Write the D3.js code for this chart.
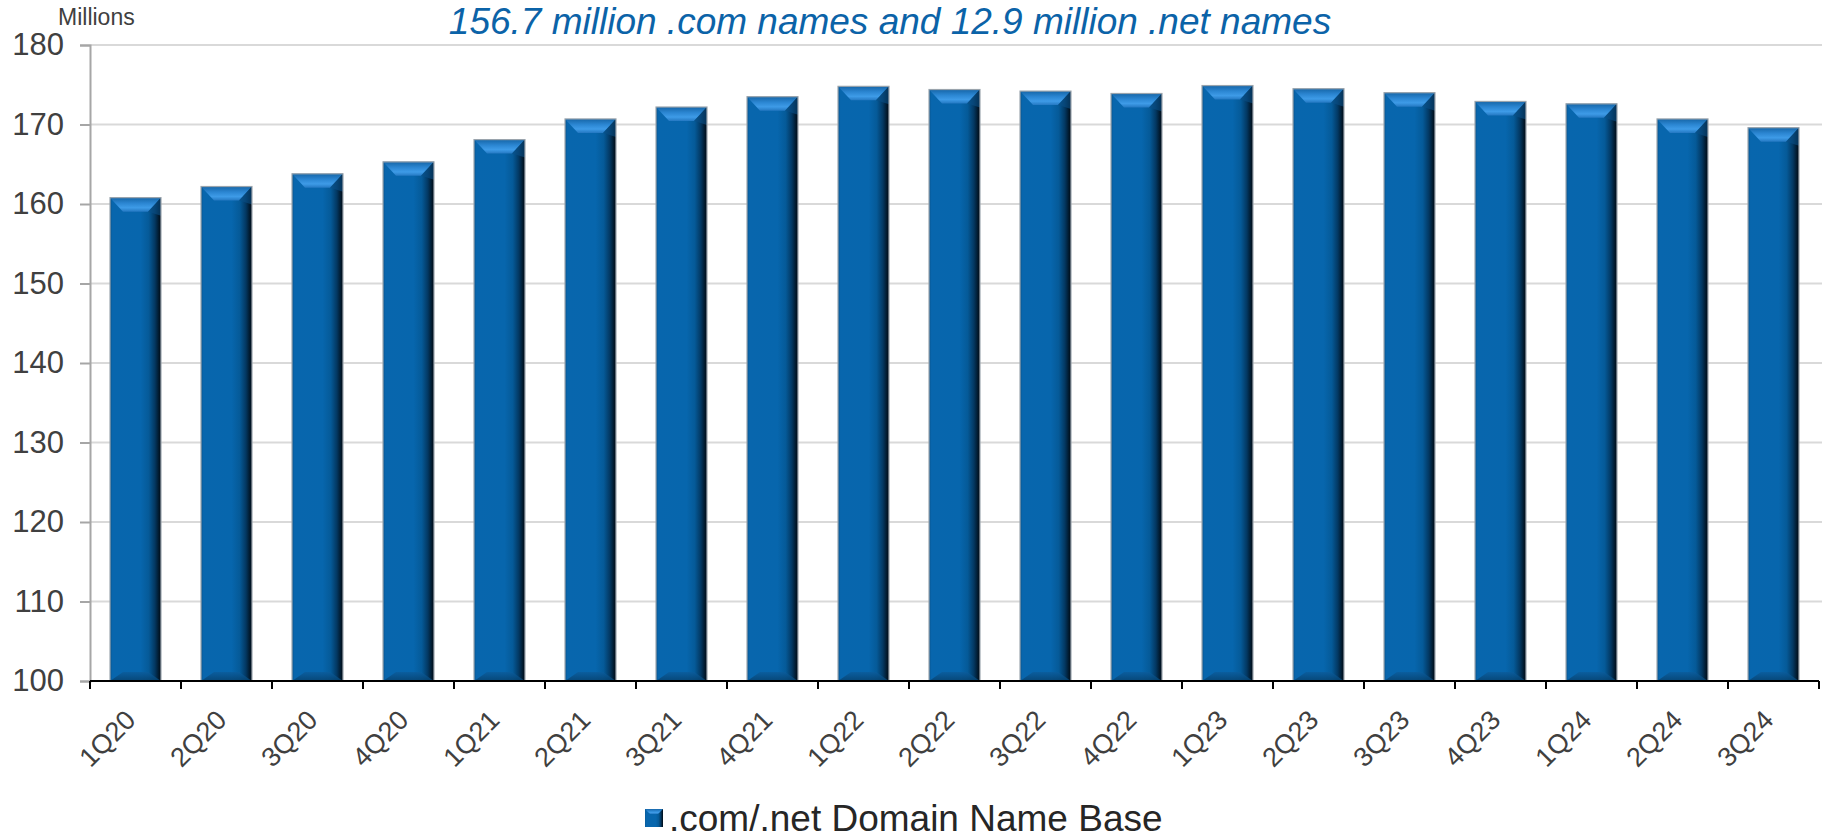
<!DOCTYPE html>
<html>
<head>
<meta charset="utf-8">
<script src="https://cdn.jsdelivr.net/npm/d3@7"></script>
<style>
  html, body { margin: 0; padding: 0; background: #ffffff; }
  svg { display: block; }
  text { font-family: "Liberation Sans", Arial, sans-serif; }
</style>
</head>
<body>
<svg id="chart" width="1822" height="839"></svg>
<script>
// ---- data ----
const categories = ["1Q20","2Q20","3Q20","4Q20","1Q21","2Q21","3Q21","4Q21","1Q22","2Q22","3Q22","4Q22","1Q23","2Q23","3Q23","4Q23","1Q24","2Q24","3Q24"];
const domainBase = [160.8,162.2,163.8,165.3,168.1,170.7,172.2,173.5,174.8,174.4,174.2,173.9,174.9,174.5,174.0,172.9,172.6,170.7,169.6];
const yTicks = [100,110,120,130,140,150,160,170,180];
const seriesName = ".com/.net Domain Name Base";
const titleText = "156.7 million .com names and 12.9 million .net names";
const unitText = "Millions";

(function () {
const svg = d3.select("#chart");
const mLeft = 90, mRight = 1819, mTop = 45, mBottom = 681;

const x = d3.scaleBand().domain(categories).range([mLeft, mRight]).paddingInner(0.44).paddingOuter(0.22);
const y = d3.scaleLinear().domain([100, 180]).range([mBottom, mTop]);

const defs = svg.append("defs");
const body = defs.append("linearGradient").attr("id", "bodyGrad").attr("x1", "0").attr("x2", "1").attr("y1", "0").attr("y2", "0");
[[0,"#0a5690"],[0.05,"#0866ad"],[0.6,"#0766ad"],[0.76,"#055a98"],[0.88,"#033862"],[0.96,"#01182b"],[1,"#010b15"]]
  .forEach(([o,c]) => body.append("stop").attr("offset", o).attr("stop-color", c));
const topG = defs.append("linearGradient").attr("id", "topGrad").attr("x1", "0").attr("x2", "0").attr("y1", "0").attr("y2", "1");
[[0,"#1666a8"],[0.4,"#2b86d2"],[0.72,"#3e9be7"],[1,"#2478c2"]]
  .forEach(([o,c]) => topG.append("stop").attr("offset", o).attr("stop-color", c));
const botG = defs.append("linearGradient").attr("id", "botGrad").attr("x1", "0").attr("x2", "0").attr("y1", "0").attr("y2", "1");
[[0,"#0b5c9c"],[1,"#06426f"]]
  .forEach(([o,c]) => botG.append("stop").attr("offset", o).attr("stop-color", c));

// gridlines
svg.append("g").selectAll("line").data(yTicks.filter(d => d > 100)).join("line")
  .attr("x1", mLeft).attr("x2", 1822)
  .attr("y1", d => y(d)).attr("y2", d => y(d))
  .attr("stroke", "#d9d9d9").attr("stroke-width", 2);

// y axis
const yAxis = svg.append("g").attr("transform", `translate(${mLeft},0)`)
  .call(d3.axisLeft(y).tickValues(yTicks).tickSize(10).tickPadding(16).tickFormat(d3.format("d")));
yAxis.select(".domain").attr("stroke", "#a6a6a6").attr("stroke-width", 2);
yAxis.selectAll(".tick line").attr("stroke", "#a6a6a6").attr("stroke-width", 2);
yAxis.selectAll(".tick text").attr("fill", "#404040").style("font-size", "31px")
  .style("font-family", '"Liberation Sans", Arial, sans-serif');

// bars
const bv = 13, bh = 14, bb = 9;
const bars = svg.append("g").selectAll("g").data(categories.map((c, i) => ({c, v: domainBase[i]}))).join("g");
bars.each(function(d) {
  const g = d3.select(this);
  const x0 = x(d.c), w = x.bandwidth(), y0 = y(d.v), y1 = y(100);
  g.append("rect").attr("x", x0).attr("y", y0).attr("width", w).attr("height", y1 - y0).attr("fill", "url(#bodyGrad)");
  g.append("polygon").attr("points", [[x0, y1],[x0 + w, y1],[x0 + w - bv, y1 - bb],[x0 + bv, y1 - bb]].map(p => p.join(",")).join(" "))
    .attr("fill", "url(#botGrad)").attr("opacity", 0.85);
  g.append("polygon").attr("points", [[x0, y0],[x0 + w, y0],[x0 + w - bv, y0 + bh],[x0 + bv, y0 + bh]].map(p => p.join(",")).join(" "))
    .attr("fill", "url(#topGrad)");
  g.append("polygon").attr("points", [[x0 + w, y0],[x0 + w, y0 + bh + 4],[x0 + w - bv, y0 + bh]].map(p => p.join(",")).join(" "))
    .attr("fill", "#0a4f86").attr("opacity", 0.6);
  g.append("rect").attr("x", x0).attr("y", y0).attr("width", w).attr("height", y1 - y0)
    .attr("fill", "none").attr("stroke", "#9aa4ad").attr("stroke-width", 1.2);
});

// x axis
const xAxis = svg.append("g").attr("transform", `translate(0,${mBottom})`);
xAxis.append("line").attr("x1", mLeft).attr("x2", mRight).attr("y1", 0).attr("y2", 0).attr("stroke", "#000").attr("stroke-width", 2);
const bounds = categories.map(c => x(c) - x.step() * x.paddingInner() / 2).concat([mRight]);
xAxis.selectAll("line.tk").data(bounds).join("line").attr("class", "tk")
  .attr("x1", d => d).attr("x2", d => d).attr("y1", 0).attr("y2", 8)
  .attr("stroke", "#000").attr("stroke-width", 2);
xAxis.selectAll("text").data(categories).join("text")
  .attr("transform", d => `translate(${x(d) + x.bandwidth() / 2 - 5},${34}) rotate(-45)`)
  .attr("text-anchor", "end").attr("dy", "0.35em")
  .attr("fill", "#404040").style("font-size", "27px")
  .text(d => d);

// unit label
svg.append("text").attr("x", 58).attr("y", 25).attr("fill", "#404040").style("font-size", "23px").text(unitText);

// title
svg.append("text").attr("x", 890).attr("y", 34).attr("text-anchor", "middle")
  .attr("fill", "#0b63a8").style("font-size", "37px").style("font-style", "italic").text(titleText);

// legend
const lg = svg.append("g").attr("transform", "translate(645,818)");
lg.append("rect").attr("x", 0).attr("y", -9).attr("width", 18).attr("height", 18).attr("fill", "url(#bodyGrad)");
lg.append("polygon").attr("points", "0,-9 18,-9 13,-4 5,-4").attr("fill", "url(#topGrad)");
lg.append("text").attr("x", 24).attr("y", 0).attr("dy", "0.35em").attr("fill", "#262626")
  .style("font-size", "37px").text(seriesName);
})();
</script>
</body>
</html>
